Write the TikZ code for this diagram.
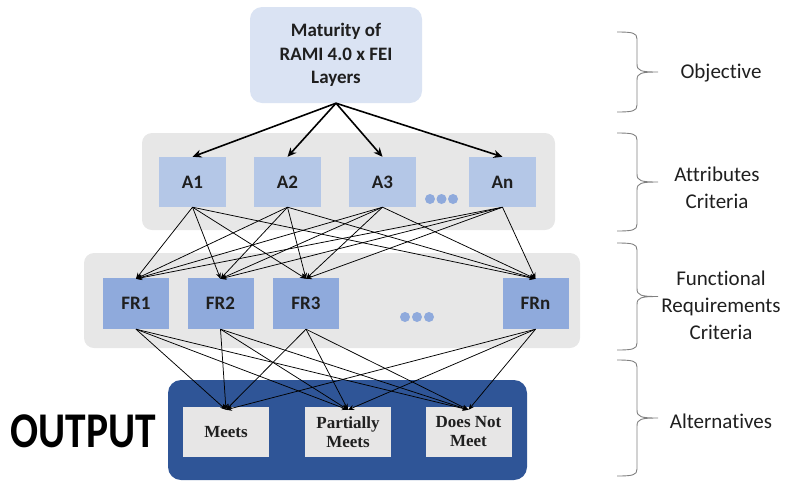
\documentclass[tikz,border=0pt]{standalone}
\usepackage{fontspec}
\setmainfont{Carlito}[Ligatures=NoCommon]
\newfontfamily\outserif{Liberation Serif}
\usetikzlibrary{arrows.meta}

\definecolor{goalblue}{HTML}{DAE3F3}
\definecolor{attrblue}{HTML}{B4C7E7}
\definecolor{reqblue}{HTML}{8FAADC}
\definecolor{panelgray}{HTML}{E7E7E7}
\definecolor{outblue}{HTML}{2F5597}
\definecolor{outgray}{HTML}{E7E6E6}
\definecolor{inktext}{HTML}{1F1F1F}
\definecolor{bracegray}{HTML}{808080}

\tikzset{
  panel/.style={fill=panelgray, draw=none, rounded corners=10pt, inner sep=0pt},
  goalbox/.style={fill=goalblue, draw=none, rounded corners=12pt, inner sep=0pt,
    minimum width=172pt, minimum height=96pt, align=center, text=inktext,
    font=\bfseries\fontsize{19}{23.5}\selectfont},
  attrbox/.style={fill=attrblue, draw=none, inner sep=0pt,
    minimum width=67pt, minimum height=50pt, text=inktext,
    font=\bfseries\fontsize{19}{23}\selectfont},
  reqbox/.style={fill=reqblue, draw=none, inner sep=0pt,
    minimum width=66pt, minimum height=51pt, text=inktext,
    font=\bfseries\fontsize{19}{23}\selectfont},
  altbox/.style={fill=outgray, draw=none, inner sep=0pt,
    minimum width=86pt, minimum height=50pt, align=center, text=inktext,
    font=\outserif\bfseries\fontsize{17}{19}\selectfont},
  moredot/.style={circle, fill=reqblue, draw=none, inner sep=0pt, minimum size=10pt},
  levellabel/.style={align=center, text=inktext, font=\fontsize{21}{27}\selectfont},
  levelbrace/.style={draw=bracegray, line width=0.9pt, line join=round},
  mainarrow/.style={draw=black, line width=1.6pt, -{Stealth[length=9pt,width=8pt]}},
  linkarrow/.style={draw=black, line width=0.75pt, -{Stealth[length=6pt,width=5pt]}},
}

% curly brace opening to the left: ends at x=617, spine at x=637, tip at x=658
\newcommand\levelcurl[2]{%
  \pgfmathsetmacro\bt{#1}\pgfmathsetmacro\bb{#2}%
  \pgfmathsetmacro\bm{(#1+#2)/2}%
  \draw[levelbrace]
    (617,\bt) .. controls (633,\bt) and (637,\bt+1) .. (637,\bt+7)
    -- (637,\bm-8) .. controls (637,\bm-1) and (641,\bm) .. (658,\bm)
    (658,\bm) .. controls (641,\bm) and (637,\bm+1) .. (637,\bm+8)
    -- (637,\bb-7) .. controls (637,\bb-1) and (633,\bb) .. (617,\bb);
}

\begin{document}
\begin{tikzpicture}[x=1pt,y=-1pt]
  \useasboundingbox (0,0) rectangle (785,483);

  % background panels of the three lower levels
  \node[panel, minimum width=413pt, minimum height=97pt] (attrpanel) at (348.5,181.5) {};
  \node[panel, minimum width=496pt, minimum height=95pt] (reqpanel) at (332,300.5) {};
  \node[panel, fill=outblue, rounded corners=13pt, minimum width=359pt, minimum height=100pt] (outpanel) at (347.5,430) {};

  % objective
  \node[goalbox] (goal) at (336,55) {Maturity of\\RAMI 4.0 x FEI\\Layers};

  % attribute criteria
  \node[attrbox] (A1) at (192.5,182) {A1};
  \node[attrbox] (A2) at (287.5,182) {A2};
  \node[attrbox] (A3) at (382.5,182) {A3};
  \node[attrbox] (An) at (502.5,182) {An};
  \node[moredot] (ad1) at (430,199) {};
  \node[moredot] (ad2) at (441.5,199) {};
  \node[moredot] (ad3) at (453,199) {};

  % functional requirement criteria
  \node[reqbox] (FR1) at (136,303.5) {FR1};
  \node[reqbox] (FR2) at (220.5,303.5) {FR2};
  \node[reqbox] (FR3) at (306,303.5) {FR3};
  \node[reqbox] (FRn) at (535.5,303.5) {FRn};
  \node[moredot] (rd1) at (405,317) {};
  \node[moredot] (rd2) at (417,317) {};
  \node[moredot] (rd3) at (429,317) {};

  % alternatives
  \node[altbox] (meets) at (226,432) {Meets};
  \node[altbox] (partial) at (348,432) {Partially\\Meets};
  \node[altbox] (notmeet) at (468.5,432) {Does Not\\Meet};

  \node[text=black, font=\bfseries\fontsize{50}{50}\selectfont] (output) at (83.5,431)
    {\scalebox{0.83}[1]{OUTPUT}};

  % objective to attributes
  \foreach \a in {A1,A2,A3,An}
    \draw[mainarrow] (goal.south) -- (\a.north);

  % attributes to functional requirements
  \foreach \a in {A1,A2,A3,An}
    \foreach \r in {FR1,FR2,FR3,FRn}
      \draw[linkarrow] (\a.south) -- ([yshift=-1pt]\r.north);

  % functional requirements to alternatives
  \foreach \r in {FR1,FR2,FR3,FRn}
    \foreach \o in {meets,partial,notmeet}
      \draw[linkarrow] (\r.south) -- ([yshift=-3pt]\o.north);

  % level braces and their labels
  \levelcurl{32}{112}
  \levelcurl{133}{231}
  \levelcurl{243}{350}
  \levelcurl{360}{476}

  \node[levellabel] (lobj) at (721,73) {Objective};
  \node[levellabel] (lattr) at (717,188) {Attributes\\Criteria};
  \node[levellabel] (lreq) at (721,305) {Functional\\Requirements\\Criteria};
  \node[levellabel] (lalt) at (721,421) {Alternatives};
\end{tikzpicture}
\end{document}
